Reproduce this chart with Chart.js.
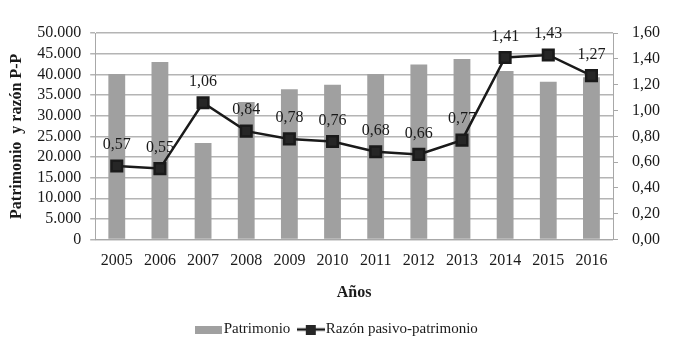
<!DOCTYPE html>
<html>
<head>
<meta charset="utf-8">
<script src="https://cdn.jsdelivr.net/npm/chart.js@4"></script>
<style>
  html, body { margin: 0; padding: 0; background: #fff; }
  #wrap { width: 678px; height: 353px; }
</style>
</head>
<body>
<div id="wrap"><canvas id="grafico" width="678" height="353"></canvas></div>
<script>
var anios = ["2005", "2006", "2007", "2008", "2009", "2010", "2011", "2012", "2013", "2014", "2015", "2016"];
var patrimonio = [40100, 43000, 23400, 33300, 36400, 37500, 40100, 42400, 43700, 40800, 38200, 39300];
var razon = [0.57, 0.55, 1.06, 0.84, 0.78, 0.76, 0.68, 0.66, 0.77, 1.41, 1.43, 1.27];

Chart.defaults.font.family = "'Liberation Serif', 'Times New Roman', serif";
Chart.defaults.color = "#1a1a1a";

// iconos de la leyenda
function iconoBarra() {
  var c = document.createElement("canvas");
  c.width = 27; c.height = 8;
  var x = c.getContext("2d");
  x.fillStyle = "#a0a0a0";
  x.fillRect(0, 0, 27, 8);
  return c;
}
function iconoLinea() {
  var c = document.createElement("canvas");
  c.width = 28; c.height = 10;
  var x = c.getContext("2d");
  x.strokeStyle = "#1a1a1a";
  x.lineWidth = 2.5;
  x.beginPath(); x.moveTo(0, 5); x.lineTo(28, 5); x.stroke();
  x.fillStyle = "#262626";
  x.fillRect(9, 0, 10, 10);
  return c;
}

var etiquetas = {
  id: "etiquetas",
  afterDatasetsDraw: function(chart) {
    var ctx = chart.ctx;
    var meta = chart.getDatasetMeta(1);
    ctx.save();
    ctx.font = "16px 'Liberation Serif'";
    ctx.fillStyle = "#1a1a1a";
    ctx.textAlign = "center";
    ctx.textBaseline = "middle";
    meta.data.forEach(function(p, i) {
      ctx.fillText(razon[i].toFixed(2).replace(".", ","), p.x, p.y - 21);
    });
    ctx.restore();
  }
};

new Chart("grafico", {
  type: "bar",
  data: {
    labels: anios,
    datasets: [{
      label: "Patrimonio",
      data: patrimonio,
      backgroundColor: "#a0a0a0",
      categoryPercentage: 1,
      barPercentage: 0.39,
      yAxisID: "y",
      order: 2
    }, {
      type: "line",
      label: "Razón pasivo-patrimonio",
      data: razon,
      borderColor: "#1a1a1a",
      borderWidth: 2.5,
      backgroundColor: "#262626",
      pointStyle: "rect",
      pointRadius: 7.5,
      pointHoverRadius: 7.5,
      tension: 0,
      yAxisID: "y1",
      order: 1
    }]
  },
  options: {
    responsive: false,
    animation: false,
    layout: { padding: { left: 5, right: 4, top: 33, bottom: 6 } },
    plugins: {
      tooltip: { enabled: false },
      legend: {
        display: true,
        position: "bottom",
        labels: {
          usePointStyle: true,
          font: { size: 15 },
          padding: 13,
          generateLabels: function(chart) {
            return [
              { text: "Patrimonio", pointStyle: iconoBarra(), datasetIndex: 0, fontColor: "#1a1a1a", lineWidth: 0 },
              { text: "Razón pasivo-patrimonio", pointStyle: iconoLinea(), datasetIndex: 1, fontColor: "#1a1a1a", lineWidth: 0 }
            ];
          }
        }
      }
    },
    scales: {
      x: {
        grid: { display: false },
        border: { display: true, color: "#a8a8a8" },
        ticks: { font: { size: 16 }, padding: 4, maxRotation: 0 },
        title: { display: true, text: "Años", font: { size: 16, weight: "bold" }, padding: { top: 8, bottom: 7 } }
      },
      y: {
        position: "left",
        min: 0, max: 50000,
        ticks: {
          stepSize: 5000,
          autoSkip: false,
          font: { size: 16 },
          padding: 9,
          callback: function(v) { return v.toLocaleString("de-DE"); }
        },
        grid: { color: "#b4b4b4", lineWidth: 1.5, tickLength: 5 },
        border: { color: "#a8a8a8" },
        title: { display: true, text: "Patrimonio  y razón P-P", font: { size: 16, weight: "bold" }, padding: 2 }
      },
      y1: {
        position: "right",
        min: 0, max: 1.6,
        ticks: {
          stepSize: 0.2,
          autoSkip: false,
          font: { size: 16 },
          padding: 14,
          callback: function(v) { return v.toFixed(2).replace(".", ","); }
        },
        grid: { drawOnChartArea: false, color: "#a8a8a8", tickLength: 5 },
        border: { color: "#a8a8a8" }
      }
    }
  },
  plugins: [etiquetas]
});
</script>
</body>
</html>
